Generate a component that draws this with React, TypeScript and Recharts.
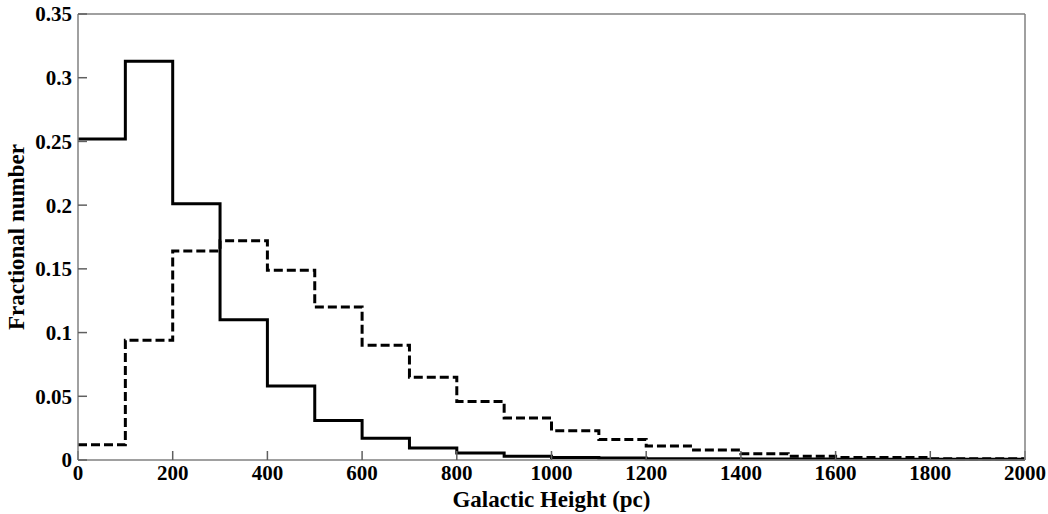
import { LineChart, Line, XAxis, YAxis } from 'recharts';

// bin edges (pc); the last edge repeats the final bin so stepAfter closes at 2000
const heights = [0, 100, 200, 300, 400, 500, 600, 700, 800, 900, 1000, 1100, 1200, 1300, 1400, 1500, 1600, 1700, 1800, 1900, 2000];
const solidFrac = [0.252, 0.313, 0.201, 0.11, 0.058, 0.031, 0.017, 0.0095, 0.0055, 0.003, 0.002, 0.0015, 0.001, 0.001, 0.0008, 0.0008, 0.0005, 0.0005, 0.0005, 0.0005, 0.0005];
const dashedFrac = [0.012, 0.094, 0.164, 0.172, 0.149, 0.12, 0.09, 0.065, 0.046, 0.033, 0.023, 0.016, 0.011, 0.0078, 0.005, 0.003, 0.002, 0.002, 0.001, 0.001, 0.001];
const xTicks = [0, 200, 400, 600, 800, 1000, 1200, 1400, 1600, 1800, 2000];
const yTicks = [0, 0.05, 0.1, 0.15, 0.2, 0.25, 0.3, 0.35];

const data = heights.map((h, i) => ({ h, solid: solidFrac[i], dashed: dashedFrac[i] }));

const FONT = '"Liberation Serif", "Times New Roman", serif';
const tickText = { fontSize: 21, fontWeight: 700, fill: '#000', fontFamily: FONT };
const titleText = { fontSize: 23, fontWeight: 700, fill: '#000', fontFamily: FONT };
const frame = { stroke: '#808080', strokeWidth: 1.5 };
const tickMark = { stroke: '#606060', strokeWidth: 1.5 };

export default function App() {
  return (
    <div style={{ position: 'absolute', left: 0, top: 0, background: '#fff' }}>
      <LineChart width={1048} height={514} data={data} margin={{ top: 0, right: 0, left: 0, bottom: 0 }}>
        <XAxis
          dataKey="h"
          type="number"
          domain={[0, 2000]}
          ticks={xTicks}
          tick={tickText}
          tickSize={-9}
          tickMargin={14}
          axisLine={frame}
          tickLine={tickMark}
          height={54}
          interval={0}
          label={{ value: 'Galactic Height (pc)', position: 'insideBottom', offset: 7, style: titleText }}
        />
        <XAxis
          xAxisId="top"
          orientation="top"
          type="number"
          domain={[0, 2000]}
          ticks={xTicks}
          tick={false}
          tickSize={-9}
          axisLine={frame}
          tickLine={tickMark}
          height={14}
        />
        <YAxis
          type="number"
          domain={[0, 0.35]}
          ticks={yTicks}
          tick={tickText}
          tickFormatter={(v: number) => String(v)}
          tickSize={-9}
          tickMargin={15}
          axisLine={frame}
          tickLine={tickMark}
          width={78}
          interval={0}
          label={{
            value: 'Fractional number',
            angle: -90,
            position: 'insideLeft',
            offset: 16,
            style: { ...titleText, textAnchor: 'middle' },
          }}
        />
        <YAxis
          yAxisId="right"
          orientation="right"
          type="number"
          domain={[0, 0.35]}
          ticks={yTicks}
          tick={false}
          tickSize={-9}
          axisLine={frame}
          tickLine={tickMark}
          width={23}
        />
        <Line
          type="stepAfter"
          dataKey="dashed"
          stroke="#000"
          strokeWidth={3}
          strokeDasharray="9 4"
          dot={false}
          isAnimationActive={false}
        />
        <Line
          type="stepAfter"
          dataKey="solid"
          stroke="#000"
          strokeWidth={3}
          dot={false}
          isAnimationActive={false}
        />
      </LineChart>
    </div>
  );
}
